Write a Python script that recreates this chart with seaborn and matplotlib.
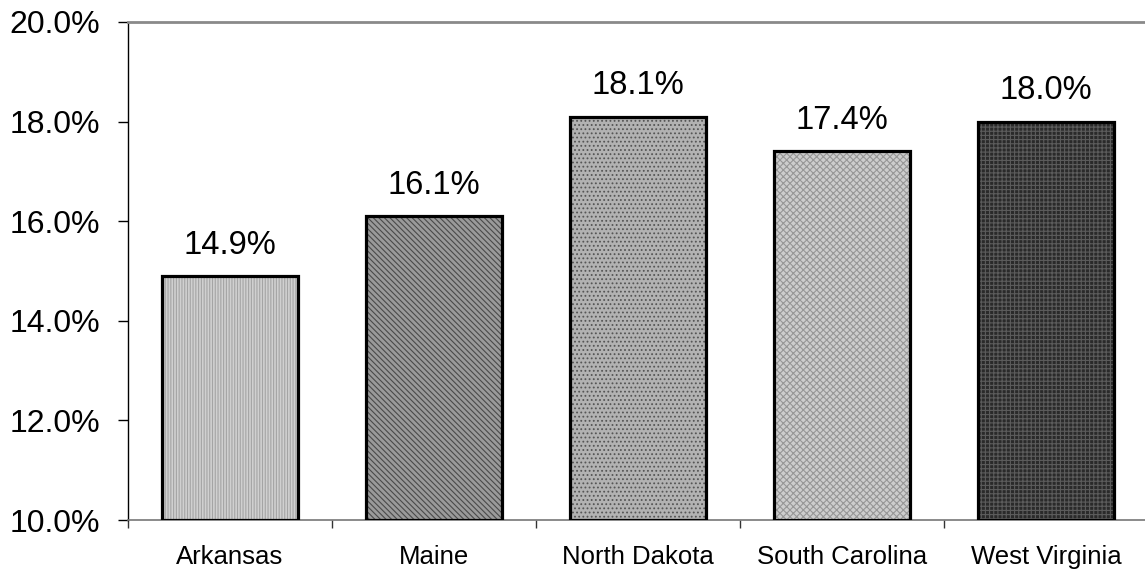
import matplotlib
matplotlib.use("Agg")
import matplotlib.pyplot as plt
import seaborn as sns
import pandas as pd
from matplotlib.ticker import FixedLocator, FuncFormatter

# Share of population by state (percent)
states = ["Arkansas", "Maine", "North Dakota", "South Carolina", "West Virginia"]
rates = [14.9, 16.1, 18.1, 17.4, 18.0]
y_ticks = [10.0, 12.0, 14.0, 16.0, 18.0, 20.0]

# Greyscale textures for each bar
fills = ["#d0d0d0", "#9a9a9a", "#b2b2b2", "#cdcdcd", "#2a2a2a"]
hatch_colors = ["#a4a4a4", "#4a4a4a", "#555555", "#979797", "#5c5c5c"]
hatches = ["||||||", "\\\\\\\\\\\\", "....", "xxxxx", "++++"]

sns.set_style("white")
plt.rcParams["font.family"] = ["Liberation Sans", "DejaVu Sans"]
plt.rcParams["hatch.linewidth"] = 0.8

df = pd.DataFrame({"state": states, "rate": rates})
y_min, y_max = y_ticks[0], y_ticks[-1]

fig = plt.figure(figsize=(11.45, 5.71), dpi=100)
ax = fig.add_axes([128 / 1145, 51 / 571, 1020 / 1145, 498 / 571])

# textured fill layer
sns.barplot(data=df, x="state", y="rate", ax=ax, width=0.67, linewidth=0,
            color="#bbbbbb", zorder=2)
for p, fc, hc, h in zip(ax.patches, fills, hatch_colors, hatches):
    p.set_facecolor(fc)
    p.set_edgecolor(hc)
    p.set_hatch(h)
    p.set_linewidth(0)

# outline layer
sns.barplot(data=df, x="state", y="rate", ax=ax, width=0.67, fill=False,
            edgecolor="black", linewidth=2.3, zorder=3)

# bars rise from the bottom of the value axis
for p in ax.patches:
    top = p.get_y() + p.get_height()
    p.set_y(y_min)
    p.set_height(top - y_min)

for i, v in enumerate(rates):
    ax.annotate(f"{v:.1f}%", xy=(i, v), xytext=(0, 16), textcoords="offset points",
                ha="center", va="baseline", fontsize=23.5, color="black")

ax.set_ylim(y_min, y_max)
ax.set_xlim(-0.5, len(states) - 0.5)
ax.yaxis.set_major_locator(FixedLocator(y_ticks))
ax.yaxis.set_major_formatter(FuncFormatter(lambda v, _: f"{v:.1f}%"))
ax.tick_params(axis="y", which="major", left=True, direction="out", length=7,
               width=1, color="black", pad=13, labelsize=23, labelcolor="black")

ax.xaxis.set_minor_locator(FixedLocator([i - 0.5 for i in range(len(states))]))
ax.tick_params(axis="x", which="major", length=0, pad=18, labelsize=18.5,
               labelcolor="black")
ax.tick_params(axis="x", which="minor", bottom=True, direction="out", length=6,
               width=1, color="#333333")
ax.set_xlabel("")
ax.set_ylabel("")

ax.spines["left"].set_color("black")
ax.spines["left"].set_linewidth(1)
ax.spines["bottom"].set_color("#777777")
ax.spines["bottom"].set_linewidth(1.2)
ax.spines["top"].set_color("#8a8a8a")
ax.spines["top"].set_linewidth(2)
ax.spines["right"].set_visible(False)
ax.grid(False)

fig.savefig("out.png", dpi=100)
